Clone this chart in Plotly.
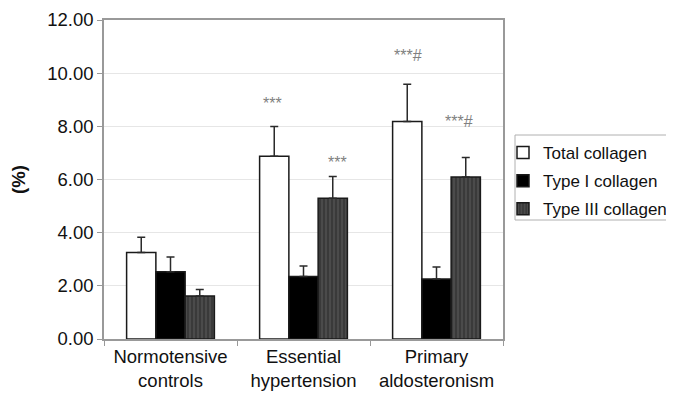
import plotly.graph_objects as go

categories = ["Normotensive<br>controls", "Essential<br>hypertension", "Primary<br>aldosteronism"]
series_names = ["Total collagen", "Type I collagen", "Type III collagen"]
total = [3.25, 6.87, 8.18]
total_err = [0.58, 1.12, 1.40]
type1 = [2.53, 2.35, 2.26]
type1_err = [0.55, 0.40, 0.45]
type3 = [1.62, 5.29, 6.09]
type3_err = [0.24, 0.82, 0.74]
yticks = [0, 2, 4, 6, 8, 10, 12]
# significance labels: category index, series index, text, label height (%)
sig_cat = [1, 1, 2, 2]
sig_series = [0, 2, 0, 2]
sig_text = ["***", "***", "***#", "***#"]
sig_y = [8.85, 6.65, 10.65, 8.2]
sig_xshift = [-2, 5, 1, -7]   # small manual offsets (pixels), as in the source figure

FONT = "Liberation Sans, Arial, sans-serif"
FS = 18.5
LFS = 17
W, H = 674, 392          # page adds an 8px body margin
L, R, T, B = 96, 179, 12, 61
PW, PH = W - L - R, H - T - B

fig = go.Figure()

styles = [
    dict(color="white", pattern=None),
    dict(color="black", pattern=None),
    dict(color="#3d3d3d", pattern=dict(shape="|", bgcolor="#3a3a3a", fgcolor="#5e5e5e", size=4, solidity=0.45)),
]
vals = [total, type1, type3]
errs = [total_err, type1_err, type3_err]
for name, v, e, st in zip(series_names, vals, errs, styles):
    marker = dict(color=st["color"], line=dict(color="#1a1a1a", width=1.5))
    if st["pattern"]:
        marker["pattern"] = st["pattern"]
    fig.add_trace(go.Bar(
        x=categories, y=v, name=name, marker=marker, legendgroup=name,
        error_y=dict(type="data", array=e, arrayminus=[0] * len(e), symmetric=False,
                     color="#2a2a2a", thickness=1.5, width=4),
    ))

n_series = len(series_names)
bargap = 0.34
bw = (1 - bargap) / n_series
for ci, si, txt, yy, xs in zip(sig_cat, sig_series, sig_text, sig_y, sig_xshift):
    xoff = ci - (1 - bargap) / 2 + bw * (si + 0.5)
    fig.add_annotation(
        x=xoff, y=yy, xref="x", yref="y",
        text=txt, showarrow=False, xshift=xs,
        font=dict(family=FONT, size=16, color="#808080"),
    )

# legend frame (runs to the right page edge like the reference)
fx0, fx1, fy0, fy1 = 507, 690, 127, 212   # figure pixel coords
fig.add_shape(type="rect", xref="paper", yref="paper",
              x0=(fx0 - L) / PW, x1=(fx1 - L) / PW,
              y0=1 - (fy1 - T) / PH, y1=1 - (fy0 - T) / PH,
              line=dict(color="#b0b0b0", width=1), layer="above")

fig.update_layout(
    width=W, height=H,
    margin=dict(l=L, r=R, t=T, b=B, autoexpand=False),
    paper_bgcolor="white", plot_bgcolor="white",
    barmode="group", bargap=bargap, bargroupgap=0,
    font=dict(family=FONT, size=FS, color="#111111"),
    showlegend=True,
    legend=dict(
        x=(495 - L) / PW, y=1 - (127 - T) / PH, xanchor="left", yanchor="top",
        borderwidth=0, bgcolor="rgba(0,0,0,0)",
        font=dict(family=FONT, size=LFS, color="#111111"),
        tracegroupgap=3, itemwidth=30,
    ),
)
fig.update_xaxes(
    type="category", range=[-0.5, 2.5],
    showline=True, linecolor="#999999", linewidth=1.5, mirror=True,
    ticks="outside", tickson="boundaries", ticklen=5, tickcolor="#999999",
    showgrid=False, automargin=False,
    tickfont=dict(family=FONT, size=FS, color="#111111"),
)
fig.update_yaxes(
    range=[0, 12], tickvals=yticks, ticktext=[f"{t:.2f}" for t in yticks],
    showline=True, linecolor="#999999", linewidth=1.5, mirror=True,
    ticks="outside", ticklen=5, tickcolor="#999999",
    showgrid=True, gridcolor="#e6e6e6", gridwidth=1,
    zeroline=False, automargin=False,
    tickfont=dict(family=FONT, size=FS, color="#111111"),
    title=dict(text="<b>(%)</b>", font=dict(family=FONT, size=FS, color="#111111"), standoff=20),
)

fig.write_html("out.html")
